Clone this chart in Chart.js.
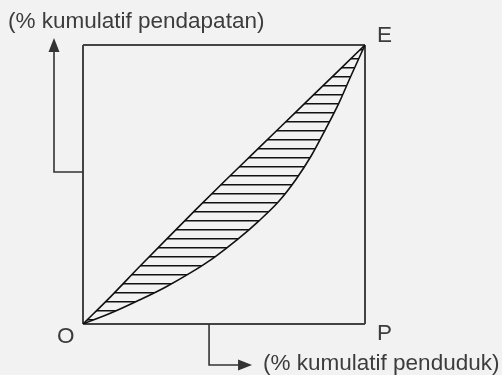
<!DOCTYPE html>
<html>
<head>
<meta charset="utf-8">
<script src="https://cdn.jsdelivr.net/npm/chart.js@4.4.1/dist/chart.umd.min.js"></script>
<style>
  html, body { margin: 0; padding: 0; background: #f2f2f2; }
  #wrap { width: 502px; height: 375px; }
</style>
</head>
<body>
<div id="wrap"><canvas id="kurva" width="502" height="375"></canvas></div>
<script>
// --- data (persen kumulatif) ---
// garis atas (hampir garis pemerataan)
const atasX = [0, 10, 20, 30, 40, 50, 60, 70, 80, 90, 100];
const atasY = [0, 10, 20.5, 30.8, 41, 51, 60.8, 70.6, 80.4, 90.2, 100];
// kurva Lorenz bawah
const bawahX = [0, 10.1, 19.8, 29.2, 38.2, 46.7, 54.7, 62.2, 69.3, 75.5, 81.0, 85.9, 90.7, 95.0, 100];
const bawahY = [0, 4.0, 8.5, 13.2, 18.4, 24.0, 30.2, 36.8, 43.8, 51.8, 60.4, 69.6, 79.1, 88.9, 100];

const labelSumbuY = '(% kumulatif pendapatan)';
const labelSumbuX = '(% kumulatif penduduk)';
const labelTitik = ['O', 'E', 'P'];

const toXY = (xs, ys) => xs.map((v, i) => ({ x: v, y: ys[i] }));

// pola arsiran garis horizontal
const pc = document.createElement('canvas');
pc.width = 8; pc.height = 9;
const pctx = pc.getContext('2d');
pctx.fillStyle = '#111';
pctx.fillRect(0, 4, 8, 1.5);
const arsir = pctx.createPattern(pc, 'repeat');

const TEKS = '#3c3c3c';
const FONT = '22.5px "Liberation Sans", Arial, sans-serif';

// panah & label di luar kotak
const hiasan = {
  id: 'hiasan',
  afterDraw(chart) {
    const { ctx, chartArea: a, scales: { x, y } } = chart;
    ctx.save();
    ctx.strokeStyle = '#333';
    ctx.fillStyle = '#333';
    ctx.lineWidth = 1.6;

    // panah kiri (ke atas)
    const ax = a.left - 29, ay = y.getPixelForValue(54.5);
    ctx.beginPath();
    ctx.moveTo(a.left, ay);
    ctx.lineTo(ax, ay);
    ctx.lineTo(ax, a.top + 6);
    ctx.stroke();
    ctx.beginPath();
    ctx.moveTo(ax, a.top - 7);
    ctx.lineTo(ax - 5.5, a.top + 7);
    ctx.lineTo(ax + 5.5, a.top + 7);
    ctx.closePath();
    ctx.fill();

    // panah bawah (ke kanan)
    const bx = x.getPixelForValue(44.7), by = a.bottom + 41;
    ctx.beginPath();
    ctx.moveTo(bx, a.bottom);
    ctx.lineTo(bx, by);
    ctx.lineTo(bx + 30, by);
    ctx.stroke();
    ctx.beginPath();
    ctx.moveTo(bx + 43, by);
    ctx.lineTo(bx + 29, by - 5.5);
    ctx.lineTo(bx + 29, by + 5.5);
    ctx.closePath();
    ctx.fill();

    // teks
    ctx.fillStyle = TEKS;
    ctx.font = FONT;
    ctx.textBaseline = 'alphabetic';
    ctx.textAlign = 'left';
    ctx.fillText(labelSumbuY, a.left - 75, 27.5);
    ctx.fillText(labelSumbuX, bx + 54, by + 5);
    ctx.fillText(labelTitik[0], a.left - 26, a.bottom + 19);
    ctx.fillText(labelTitik[1], a.right + 12, a.top - 3);
    ctx.fillText(labelTitik[2], a.right + 12, a.bottom + 16);
    ctx.restore();
  }
};

new Chart(document.getElementById('kurva'), {
  type: 'line',
  data: {
    datasets: [
      {
        data: toXY(atasX, atasY),
        borderColor: '#111',
        borderWidth: 1.6,
        pointRadius: 0,
        cubicInterpolationMode: 'monotone',
        fill: false
      },
      {
        data: toXY(bawahX, bawahY),
        borderColor: '#111',
        borderWidth: 1.6,
        pointRadius: 0,
        cubicInterpolationMode: 'monotone',
        fill: '-1',
        backgroundColor: arsir
      }
    ]
  },
  options: {
    responsive: false,
    animation: false,
    events: [],
    layout: { padding: { left: 83, right: 137, top: 45, bottom: 51 } },
    plugins: { legend: { display: false }, tooltip: { enabled: false } },
    scales: {
      x: {
        type: 'linear', min: 0, max: 100,
        ticks: { display: false, stepSize: 100 },
        grid: { color: '#444', lineWidth: 2, drawTicks: false },
        border: { display: false }
      },
      y: {
        type: 'linear', min: 0, max: 100,
        ticks: { display: false, stepSize: 100 },
        grid: { color: '#444', lineWidth: 2, drawTicks: false },
        border: { display: false }
      }
    }
  },
  plugins: [hiasan]
});
</script>
</body>
</html>
